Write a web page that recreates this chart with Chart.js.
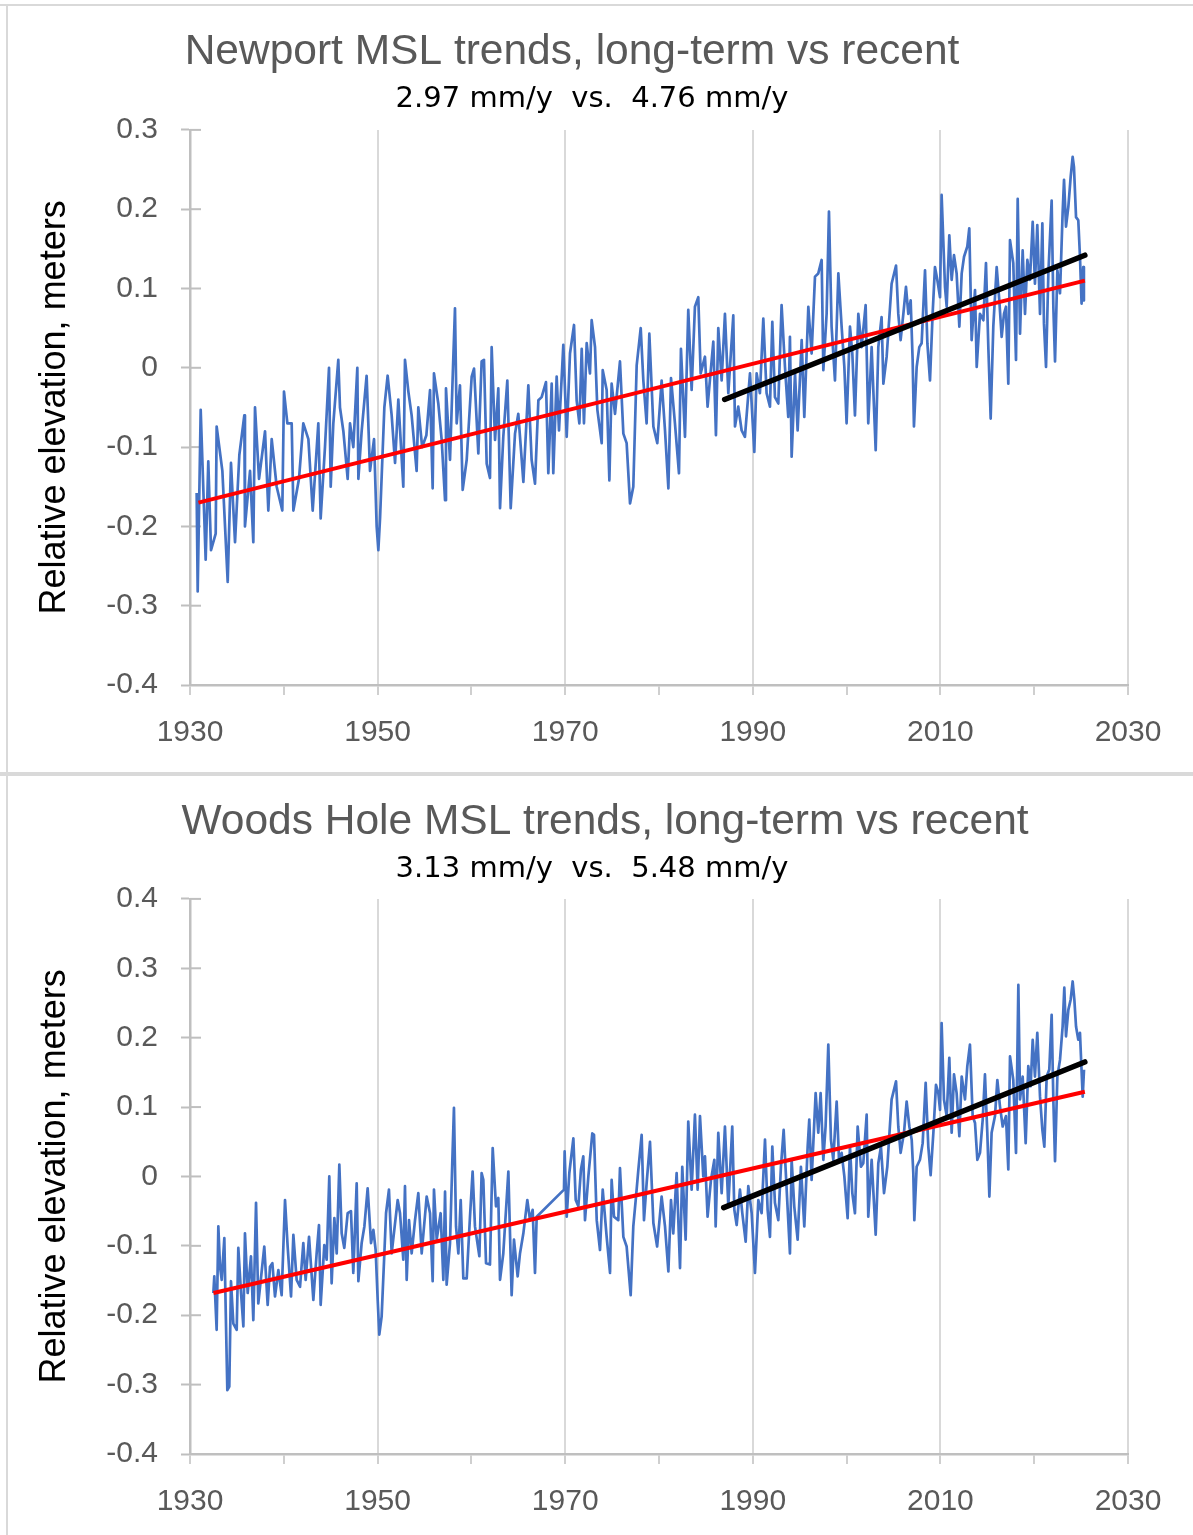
<!DOCTYPE html>
<html><head><meta charset="utf-8">
<script src="https://cdn.jsdelivr.net/npm/chart.js@4.4.1/dist/chart.umd.min.js"></script>
<style>
html,body{margin:0;padding:0;background:#fff;}
body{width:1193px;height:1535px;position:relative;overflow:hidden;}
canvas{position:absolute;left:0;}
.ln{position:absolute;background:#d9d9d9;}
</style></head><body>
<canvas id="c1" width="1193" height="772" style="top:0;width:1193px;height:772px"></canvas>
<canvas id="c2" width="1193" height="759" style="top:776px;width:1193px;height:759px"></canvas>
<div class="ln" style="left:0;top:4px;width:1193px;height:2px"></div>
<div class="ln" style="left:6px;top:4px;width:2px;height:1531px"></div>
<div class="ln" style="left:0;top:772px;width:1193px;height:4px"></div>
<script>
// ---------- data ----------
const xTickLabelYears = [1930, 1950, 1970, 1990, 2010, 2030];
const yAxisTitle = 'Relative elevation, meters';

const newportTitle = 'Newport MSL trends, long-term vs recent';
const newportSubtitle = '2.97 mm/y  vs.  4.76 mm/y';
const newportYears = [
1930.71,1930.82,1931.14,1931.67,1931.95,1932.24,1932.74,1932.84,1933.45,1934.02,1934.37,1934.80,1935.26,1935.79,1935.86,1936.40,1936.75,1936.93,1937.36,1938.00,1938.35,1938.71,1939.24,1939.84,
1940.02,1940.38,1940.84,1941.02,1941.62,1942.08,1942.62,1943.08,1943.68,1943.93,1944.39,1944.82,1945.00,1945.28,1945.81,1945.99,1946.35,1946.81,1947.06,1947.41,1947.84,1947.95,1948.30,1948.83,1949.19,1949.62,1949.90,
1950.08,1950.26,1950.72,1951.07,1951.50,1951.86,1952.21,1952.74,1952.92,1953.28,1953.63,1954.16,1954.34,1954.75,1955.20,1955.59,1955.87,1956.01,1956.47,1956.83,1957.19,1957.29,1957.72,1958.07,1958.25,1958.43,1958.78,1959.07,1959.50,
1960.03,1960.28,1960.74,1961.09,1961.34,1961.63,1961.98,1962.16,1962.52,1962.87,1963.05,1963.40,1963.83,1964.19,1964.65,1965.00,1965.54,1966.07,1966.42,1966.78,1967.14,1967.49,1967.95,1968.20,1968.56,1968.73,1969.09,1969.34,1969.80,
1970.16,1970.51,1970.94,1971.22,1971.51,1971.76,1972.00,1972.29,1972.64,1972.82,1973.18,1973.43,1973.89,1974.00,1974.42,1974.71,1974.95,1975.31,1975.84,1976.20,1976.55,1976.91,1977.26,1977.62,1978.05,1978.33,1978.68,1978.97,1979.40,1979.82,
1980.28,1980.64,1981.00,1981.28,1981.70,1982.13,1982.34,1982.77,1983.12,1983.48,1983.83,1984.19,1984.44,1984.90,1985.18,1985.79,1986.07,1986.32,1986.68,1987.03,1987.39,1987.92,1988.10,1988.45,1988.81,1989.16,1989.70,
1990.16,1990.41,1990.76,1991.12,1991.47,1991.83,1992.08,1992.36,1992.72,1993.07,1993.43,1993.78,1993.96,1994.14,1994.50,1994.78,1995.21,1995.49,1995.92,1996.27,1996.63,1996.98,1997.34,1997.52,1997.87,1998.12,1998.40,1998.76,1999.12,1999.47,1999.76,
2000.00,2000.36,2000.61,2000.89,2001.25,2001.60,2002.03,2002.31,2002.67,2003.10,2003.38,2003.73,2003.92,2004.27,2004.80,2005.27,2005.51,2005.76,2006.05,2006.33,2006.58,2006.83,2007.04,2007.18,2007.47,2007.75,2008.00,2008.36,2008.61,2008.89,2009.17,2009.42,2009.67,2009.96,
2010.13,2010.49,2010.67,2010.95,2011.20,2011.45,2011.73,2012.02,2012.27,2012.52,2012.87,2013.08,2013.33,2013.69,2013.87,2014.22,2014.58,2014.86,2015.11,2015.36,2015.64,2016.00,2016.28,2016.53,2016.78,2016.99,2017.24,2017.42,2017.77,2018.06,2018.24,2018.49,2018.77,2019.02,2019.27,2019.55,2019.84,
2020.08,2020.33,2020.62,2020.87,2021.04,2021.26,2021.51,2021.86,2022.04,2022.22,2022.47,2022.75,2023.03,2023.18,2023.39,2023.64,2023.89,2024.10,2024.24,2024.46,2024.70,2024.88,2025.05,2025.23,2025.30];
const newportMSL = [
-0.158,-0.282,-0.053,-0.242,-0.118,-0.230,-0.209,-0.074,-0.130,-0.270,-0.120,-0.220,-0.110,-0.060,-0.200,-0.130,-0.220,-0.050,-0.140,-0.080,-0.180,-0.090,-0.150,-0.180,
-0.030,-0.070,-0.070,-0.180,-0.140,-0.070,-0.090,-0.180,-0.070,-0.190,-0.100,0.000,-0.150,-0.070,0.010,-0.050,-0.080,-0.140,-0.070,-0.100,0.000,-0.140,-0.080,-0.010,-0.130,-0.090,-0.200,
-0.230,-0.190,-0.050,-0.010,-0.060,-0.120,-0.040,-0.150,0.010,-0.030,-0.060,-0.130,-0.050,-0.100,-0.085,-0.028,-0.152,-0.007,-0.045,-0.091,-0.167,-0.026,-0.116,0.012,0.075,-0.070,-0.022,-0.154,-0.116,
-0.011,-0.001,-0.108,0.008,0.010,-0.121,-0.139,0.026,-0.091,-0.026,-0.177,-0.087,-0.016,-0.177,-0.083,-0.058,-0.144,-0.022,-0.116,-0.146,-0.041,-0.037,-0.018,-0.133,-0.020,-0.133,-0.011,-0.079,0.029,
-0.087,0.018,0.054,-0.041,-0.070,0.024,-0.070,0.031,-0.007,0.060,0.026,-0.053,-0.095,-0.003,-0.028,-0.142,-0.020,-0.058,0.008,-0.083,-0.095,-0.171,-0.150,0.003,0.050,-0.016,-0.070,0.043,-0.074,-0.095,
-0.016,-0.079,-0.152,-0.013,-0.070,-0.133,0.024,-0.087,0.073,-0.028,0.077,0.089,-0.007,0.014,-0.049,0.033,-0.085,0.050,-0.016,0.068,-0.032,0.066,-0.074,-0.049,-0.079,-0.087,-0.007,
-0.106,-0.007,-0.032,0.062,-0.032,-0.049,0.058,-0.037,-0.045,0.079,0.001,-0.062,0.039,-0.112,-0.007,-0.079,0.035,-0.062,0.077,0.018,0.115,0.119,0.136,-0.003,0.068,0.197,0.052,-0.016,0.119,0.052,0.001,
-0.070,0.052,0.018,-0.060,0.068,0.026,0.079,-0.070,0.026,-0.104,0.026,0.064,-0.020,0.014,0.106,0.129,0.068,0.035,0.068,0.102,0.068,0.085,0.010,-0.074,0.001,0.026,0.031,0.123,0.031,-0.016,0.068,0.127,0.111,0.089,
0.218,0.102,0.077,0.167,0.111,0.142,0.119,0.052,0.119,0.140,0.153,0.176,0.035,0.098,0.001,0.068,0.060,0.132,0.026,-0.064,0.052,0.127,0.085,0.039,0.068,0.077,-0.020,0.161,0.132,0.010,0.213,0.043,0.148,0.068,0.136,0.111,0.184,
0.106,0.180,0.068,0.182,0.056,0.001,0.119,0.211,0.077,0.008,0.123,0.094,0.195,0.237,0.178,0.203,0.241,0.266,0.253,0.190,0.186,0.140,0.081,0.127,0.085];
const newportLongYears = [1930.9, 2025.4];
const newportLongVals = [-0.170, 0.110];
const newportRecentYears = [1987.0, 2025.4];
const newportRecentVals = [-0.040, 0.142];

const woodsTitle = 'Woods Hole MSL trends, long-term vs recent';
const woodsSubtitle = '3.13 mm/y  vs.  5.48 mm/y';
const woodsYears = [
1932.49,1932.59,1932.84,1933.02,1933.20,1933.38,1933.66,1933.80,1933.98,1934.19,1934.37,1934.62,1934.98,1935.15,1935.44,1935.69,1935.86,1936.15,1936.50,1936.75,1937.04,1937.28,1937.64,1937.92,1938.28,1938.53,1938.78,1939.06,1939.42,1939.77,
1940.13,1940.41,1940.77,1941.02,1941.37,1941.73,1942.08,1942.33,1942.69,1943.15,1943.50,1943.75,1943.93,1944.32,1944.57,1944.85,1945.10,1945.39,1945.64,1945.92,1946.17,1946.45,1946.81,1947.16,1947.41,1947.77,1947.95,1948.30,1948.59,1948.94,1949.30,1949.55,1949.79,
1950.01,1950.18,1950.43,1950.72,1950.90,1951.21,1951.50,1951.78,1952.14,1952.39,1952.74,1952.92,1953.10,1953.35,1953.63,1953.99,1954.34,1954.70,1955.23,1955.59,1955.87,1956.01,1956.30,1956.72,1957.01,1957.19,1957.36,1957.72,1957.97,1958.14,1958.36,1958.61,1958.86,1959.14,1959.50,1959.85,
1960.13,1960.38,1960.85,1961.09,1961.27,1961.56,1961.98,1962.27,1962.62,1962.87,1963.05,1963.40,1963.69,1963.94,1964.29,1964.54,1964.93,1965.18,1965.54,1965.96,1966.25,1966.53,1966.78,1966.96,1969.87,1969.94,
1970.16,1970.44,1970.87,1971.12,1971.40,1971.68,1971.93,1972.11,1972.47,1972.89,1973.07,1973.36,1973.71,1974.00,1974.42,1974.78,1974.95,1975.20,1975.66,1975.84,1976.20,1976.55,1976.98,1977.26,1977.55,1977.80,1978.15,1978.40,1978.68,1979.04,1979.40,1979.80,
1980.28,1980.64,1981.00,1981.28,1981.52,1981.88,1982.24,1982.48,1982.84,1983.12,1983.48,1983.83,1984.12,1984.37,1984.72,1984.90,1985.18,1985.54,1985.90,1986.04,1986.32,1986.68,1987.03,1987.39,1987.81,1988.03,1988.28,1988.63,1988.88,1989.24,1989.52,1989.88,
1990.23,1990.59,1990.94,1991.30,1991.58,1991.83,1992.08,1992.36,1992.72,1993.00,1993.29,1993.61,1993.96,1994.14,1994.42,1994.78,1995.13,1995.49,1995.85,1996.02,1996.27,1996.70,1996.98,1997.23,1997.52,1997.76,1998.05,1998.33,1998.58,1998.94,1999.19,1999.47,1999.76,
2000.11,2000.36,2000.61,2000.89,2001.18,2001.53,2001.78,2002.14,2002.31,2002.67,2003.10,2003.38,2003.66,2003.99,2004.34,2004.80,2005.27,2005.51,2005.76,2006.12,2006.40,2006.69,2006.94,2007.11,2007.22,2007.47,2007.82,2008.11,2008.43,2008.71,2008.96,2009.25,2009.53,2009.78,2009.96,
2010.13,2010.38,2010.67,2010.95,2011.20,2011.45,2011.73,2012.02,2012.27,2012.62,2012.87,2013.15,2013.44,2013.69,2013.94,2014.22,2014.51,2014.75,2015.00,2015.22,2015.46,2015.82,2016.07,2016.35,2016.64,2016.99,2017.24,2017.42,2017.77,2018.06,2018.31,2018.49,2018.77,2019.09,2019.37,2019.62,2019.84,
2020.08,2020.33,2020.62,2020.87,2021.08,2021.33,2021.61,2021.86,2022.04,2022.22,2022.47,2022.75,2023.03,2023.21,2023.39,2023.64,2023.89,2024.10,2024.28,2024.46,2024.70,2024.88,2025.06,2025.17,2025.31];
const woodsMSL = [
-0.168,-0.144,-0.221,-0.072,-0.130,-0.149,-0.089,-0.188,-0.308,-0.303,-0.151,-0.212,-0.221,-0.103,-0.168,-0.216,-0.082,-0.168,-0.115,-0.207,-0.038,-0.183,-0.137,-0.101,-0.185,-0.130,-0.125,-0.173,-0.135,-0.171,
-0.034,-0.101,-0.173,-0.084,-0.149,-0.159,-0.096,-0.149,-0.087,-0.178,-0.111,-0.070,-0.185,-0.099,-0.120,0.000,-0.154,-0.060,-0.111,0.017,-0.082,-0.103,-0.053,-0.050,-0.139,-0.010,-0.151,-0.096,-0.072,-0.017,-0.096,-0.077,-0.106,
-0.178,-0.228,-0.202,-0.111,-0.053,-0.019,-0.111,-0.077,-0.034,-0.053,-0.120,-0.014,-0.149,-0.063,-0.111,-0.063,-0.024,-0.111,-0.029,-0.053,-0.151,-0.019,-0.091,-0.053,-0.149,-0.022,-0.156,-0.096,0.024,0.099,-0.072,-0.111,-0.034,-0.147,-0.147,-0.058,
0.007,-0.072,-0.115,0.005,-0.005,-0.125,-0.127,0.041,-0.043,-0.031,-0.149,-0.111,-0.048,0.007,-0.171,-0.091,-0.144,-0.111,-0.082,-0.034,-0.063,-0.048,-0.139,-0.058,-0.019,0.036,
-0.058,0.005,0.055,-0.034,-0.043,0.010,0.029,-0.063,0.000,0.062,0.060,-0.063,-0.106,-0.019,-0.087,-0.139,-0.005,-0.058,-0.063,0.012,-0.087,-0.101,-0.171,-0.072,-0.029,0.010,0.060,-0.063,-0.010,0.050,-0.067,-0.101,
-0.029,-0.072,-0.137,-0.034,-0.082,0.005,-0.132,0.014,-0.091,0.079,-0.019,0.089,-0.019,0.087,0.000,0.029,-0.058,-0.005,0.024,-0.072,0.063,-0.024,0.072,-0.043,0.072,-0.048,-0.070,-0.019,-0.053,-0.094,-0.014,-0.053,
-0.139,-0.034,-0.053,0.053,-0.048,-0.087,0.043,-0.038,-0.063,0.014,0.067,-0.019,-0.111,0.024,-0.043,-0.091,0.014,-0.072,0.043,0.082,-0.005,0.120,0.063,0.120,0.024,0.072,0.190,0.053,0.024,0.108,0.024,0.034,0.000,
-0.060,0.043,-0.024,-0.053,0.072,0.014,0.019,0.089,-0.058,0.024,-0.084,0.019,0.043,-0.024,0.014,0.111,0.137,0.072,0.034,0.063,0.108,0.072,0.053,0.005,-0.063,0.014,0.024,0.048,0.135,0.043,0.002,0.063,0.132,0.120,0.096,
0.221,0.111,0.087,0.171,0.063,0.147,0.120,0.058,0.144,0.111,0.159,0.190,0.087,0.077,0.024,0.034,0.082,0.147,0.063,-0.029,0.063,0.087,0.139,0.101,0.072,0.087,0.010,0.173,0.139,0.034,0.276,0.111,0.144,0.048,0.159,0.130,0.197,
0.144,0.207,0.115,0.067,0.043,0.144,0.154,0.233,0.111,0.022,0.144,0.168,0.216,0.272,0.202,0.240,0.255,0.281,0.255,0.216,0.197,0.207,0.149,0.115,0.154];
const woodsLongYears = [1932.5, 2025.4];
const woodsLongVals = [-0.168, 0.122];
const woodsRecentYears = [1986.9, 2025.4];
const woodsRecentVals = [-0.045, 0.165];

// ---------- chart builder ----------
const SANS = "'Liberation Sans', Arial, sans-serif";
const toPts = (xs, ys) => xs.map((x, i) => ({x: x, y: ys[i]}));
const fmtY = v => { const r = Math.round(v * 10) / 10; return r === 0 ? '0' : r.toFixed(1); };

function build(id, o) {
  const titlePlacer = {
    id: 'titlePlacer',
    afterLayout(chart) {
      chart.boxes.forEach(b => {
        if (!b.options || b.options.text === undefined) return;
        if (b.options.text === o.title) b.left = 2 * o.titleCenter - b.right;
        if (b.options.text === o.subtitle) b.left = 2 * o.subCenter - b.right;
      });
    }
  };
  const innerTicks = {
    id: 'innerTicks',
    beforeDatasetsDraw(chart) {
      const ys = chart.scales.y, ctx = chart.ctx, left = chart.chartArea.left;
      ctx.save();
      ctx.strokeStyle = '#bfbfbf';
      ctx.lineWidth = 2;
      ys.ticks.forEach((t, i) => {
        const p = ys.getPixelForTick(i);
        ctx.beginPath(); ctx.moveTo(left, p); ctx.lineTo(left + 11, p); ctx.stroke();
      });
      ctx.restore();
    }
  };
  return new Chart(document.getElementById(id), {
    type: 'line',
    data: {datasets: [
      {label: 'recent trend', data: toPts(o.recentYears, o.recentVals), borderColor: '#000000', borderWidth: 5.5, borderCapStyle: 'round', order: 0},
      {label: 'long-term trend', data: toPts(o.longYears, o.longVals), borderColor: '#FF0000', borderWidth: 4, order: 1},
      {label: 'monthly MSL', data: toPts(o.years, o.vals), borderColor: '#4472C4', borderWidth: 2.7, borderJoinStyle: 'round', order: 2}
    ]},
    plugins: [titlePlacer, innerTicks],
    options: {
      responsive: false, animation: false, devicePixelRatio: 1,
      elements: {point: {radius: 0}, line: {tension: 0}},
      layout: {padding: {left: 0, right: 65, top: 0, bottom: o.padBottom}},
      plugins: {
        legend: {display: false}, tooltip: {enabled: false},
        title: {display: true, text: o.title, color: '#595959',
          font: {family: SANS, size: 42.5, weight: 'normal', lineHeight: 1.2},
          padding: {top: o.titleTop, bottom: 5}},
        subtitle: {display: true, text: o.subtitle, color: '#000000',
          font: {family: "'DejaVu Sans', sans-serif", size: 29, weight: 'normal', lineHeight: 1.2},
          padding: {top: 0, bottom: o.subBottom}}
      },
      scales: {
        x: {
          type: 'linear', min: 1930, max: 2030,
          afterFit(s) { s.height = 60; },
          ticks: {stepSize: 10, autoSkip: false, maxRotation: 0, padding: 20, color: '#595959',
            font: {family: SANS, size: 30},
            callback: v => xTickLabelYears.includes(v) ? String(v) : ''},
          grid: {drawOnChartArea: true, drawTicks: true, tickLength: 10, lineWidth: 2,
            color: c => (c.tick && xTickLabelYears.includes(c.tick.value)) ? '#d9d9d9' : 'rgba(0,0,0,0)',
            tickColor: '#cfcfcf', tickWidth: 2},
          border: {display: true, color: '#bfbfbf', width: 2.5}
        },
        y: {
          min: -0.4, max: o.yMax,
          afterFit(s) { s.width = 190; },
          ticks: {stepSize: 0.1, padding: 23, color: '#595959', font: {family: SANS, size: 30}, callback: fmtY},
          grid: {drawOnChartArea: false, drawTicks: true, tickLength: 9, tickColor: '#bfbfbf', tickWidth: 2},
          border: {display: true, color: '#bfbfbf', width: 2.5},
          title: {display: true, text: yAxisTitle, color: '#000000',
            font: {family: SANS, size: 36, weight: 'normal', lineHeight: 1.2},
            padding: {top: 33, bottom: 0}}
        }
      }
    }
  });
}

build('c1', {
  title: newportTitle, subtitle: newportSubtitle, titleCenter: 572, subCenter: 592,
  years: newportYears, vals: newportMSL,
  longYears: newportLongYears, longVals: newportLongVals,
  recentYears: newportRecentYears, recentVals: newportRecentVals,
  yMax: 0.3, titleTop: 26.5, subBottom: 12.6, padBottom: 27
});
build('c2', {
  title: woodsTitle, subtitle: woodsSubtitle, titleCenter: 605, subCenter: 592,
  years: woodsYears, vals: woodsMSL,
  longYears: woodsLongYears, longVals: woodsLongVals,
  recentYears: woodsRecentYears, recentVals: woodsRecentVals,
  yMax: 0.4, titleTop: 20.5, subBottom: 11.6, padBottom: 21
});
</script>
</body></html>
